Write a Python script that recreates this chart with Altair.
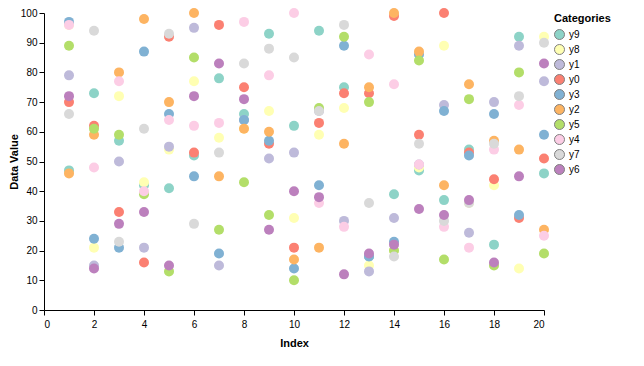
import altair as alt
import pandas as pd

index = list(range(1, 21))
categories = ["y9", "y8", "y1", "y0", "y3", "y2", "y5", "y4", "y7", "y6"]
colors = ["#8dd3c7", "#ffffb3", "#bebada", "#fb8072", "#80b1d3",
          "#fdb462", "#b3de69", "#fccde5", "#d9d9d9", "#bc80bd"]

y0 = [70, 62, 33, 16, 92, 53, 96, 75, 56, 21, 63, 73, 73, 99, 59, 100, 53, 44, 31, 51]
y1 = [79, 15, 50, 21, 55, 95, 15, 64, 51, 53, 67, 30, 13, 31, 49, 69, 26, 70, 89, 77]
y2 = [46, 59, 80, 98, 70, 100, 45, 61, 60, 17, 21, 56, 75, 100, 87, 42, 76, 57, 54, 27]
y3 = [97, 24, 21, 87, 66, 45, 19, 64, 57, 14, 42, 89, 18, 23, 86, 67, 52, 66, 32, 59]
y4 = [96, 48, 77, 40, 64, 62, 63, 97, 79, 100, 36, 28, 86, 76, 49, 28, 21, 54, 69, 25]
y5 = [89, 61, 59, 39, 13, 85, 27, 43, 32, 10, 68, 92, 70, 20, 84, 17, 71, 15, 80, 19]
y6 = [72, 14, 29, 33, 15, 72, 83, 71, 27, 40, 38, 12, 19, 22, 34, 32, 37, 16, 45, 83]
y7 = [66, 94, 23, 61, 93, 29, 53, 83, 88, 85, 67, 96, 36, 18, 56, 30, 36, 56, 72, 90]
y8 = [96, 21, 72, 43, 54, 77, 58, 61, 67, 31, 59, 68, 15, 20, 48, 89, 36, 42, 14, 92]
y9 = [47, 73, 57, 42, 41, 52, 78, 66, 93, 62, 94, 75, 18, 39, 47, 37, 54, 22, 92, 46]

series = {"y9": y9, "y8": y8, "y1": y1, "y0": y0, "y3": y3,
          "y2": y2, "y5": y5, "y4": y4, "y7": y7, "y6": y6}

rows = []
for k, cat in enumerate(categories):
    for i, v in zip(index, series[cat]):
        rows.append({"Index": i, "Value": v, "Category": cat, "order": k})
df = pd.DataFrame(rows)

chart = alt.Chart(df).mark_circle(size=100, opacity=1).encode(
    x=alt.X("Index:Q", title="Index",
            scale=alt.Scale(domain=[0, 20], nice=False),
            axis=alt.Axis(grid=False, values=list(range(0, 21, 2)),
                          labelPadding=4, titlePadding=8)),
    y=alt.Y("Value:Q", title="Data Value",
            scale=alt.Scale(domain=[0, 100]),
            axis=alt.Axis(grid=False, values=list(range(0, 101, 10)), titlePadding=1)),
    color=alt.Color("Category:N", title="Categories",
                    scale=alt.Scale(domain=categories, range=colors),
                    sort=categories,
                    legend=alt.Legend(symbolStrokeColor="gray", symbolStrokeWidth=1,
                                      symbolType="circle", offset=10, rowPadding=0)),
    order=alt.Order("order:Q"),
).properties(
    width=500, height=297,
    autosize=alt.AutoSizeParams(type="none"),
    padding={"left": 36, "top": 5, "right": 88, "bottom": 45},
).configure_view(stroke=None).configure_axis(
    domainColor="black", tickColor="black", labelColor="black", titleColor="black",
    labelFont="Liberation Sans", titleFont="Liberation Sans",
).configure_legend(
    labelFont="Liberation Sans", titleFont="Liberation Sans",
)

chart.save("out.html", embed_options={"renderer": "svg", "actions": False})
